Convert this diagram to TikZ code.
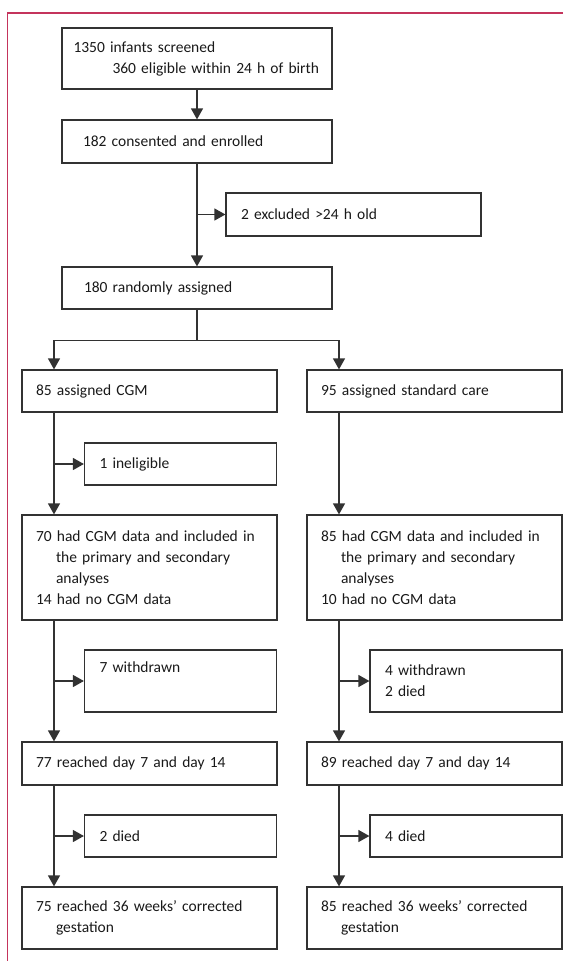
\documentclass[tikz,border=0pt]{standalone}
\usepackage{fontspec}
\setmainfont[WordSpace=0.8]{Carlito}
\usetikzlibrary{arrows.meta,positioning}
\definecolor{framered}{RGB}{196,52,92}
\definecolor{boxline}{RGB}{50,50,50}
\definecolor{boxtext}{RGB}{25,25,25}

\begin{document}
\begin{tikzpicture}
[x=1pt, y=-1pt, draw=boxline, line width=1.2pt, >={Triangle[width=12pt,length=11pt]},
stage/.style={rectangle, draw, text=boxtext, align=left, inner xsep=14pt, inner ysep=0pt, text width=227pt, font=\fontsize{15.5}{21}\selectfont},
drop/.style={stage, inner xsep=15pt, text width=162pt}]

\useasboundingbox (0,0) rectangle (563,961);

\draw[framered, line width=1.6pt] (563,13) -- (7.5,13) -- (7.5,961);

\node[stage, text width=247pt, inner xsep=11.5pt, minimum height=61pt] (screen) at (197,58.5) {1350 infants screened\\\hspace*{39pt}\mbox{360 eligible within 24 h of birth}};
\node[stage, text width=228pt, inner xsep=21pt, minimum height=43pt] (enrol) at (197,141.5) {182 consented and enrolled};
\node[drop, text width=225pt, minimum height=43pt] (excl) at (353.5,214.5) {2 excluded >24 h old};
\node[stage, text width=226pt, inner xsep=22pt, minimum height=42pt] (random) at (197,288) {180 randomly assigned};

\node[stage, minimum height=42pt] (cgmA) at (149.5,391) {85 assigned CGM};
\node[stage, minimum height=42pt] (stdA) at (434.5,391) {95 assigned standard care};

\node[drop, minimum height=42pt] (cgmX1) at (180.5,464) {1 ineligible};

\node[stage, minimum height=105pt] (cgmB) at (149.5,567.5) {70 had CGM data and included in\\\hspace*{20pt}the primary and secondary\\\hspace*{20pt}analyses\\14 had no CGM data};
\node[stage, minimum height=105pt] (stdB) at (434.5,567.5) {85 had CGM data and included in\\\hspace*{20pt}the primary and secondary\\\hspace*{20pt}analyses\\10 had no CGM data};

\node[drop, minimum height=62pt] (cgmX2) at (180.5,681) {7 withdrawn\\\strut};
\node[drop, minimum height=62pt] (stdX2) at (466,681) {4 withdrawn\\2 died};

\node[stage, minimum height=43pt] (cgmC) at (149.5,763.5) {77 reached day 7 and day 14};
\node[stage, minimum height=43pt] (stdC) at (434.5,763.5) {89 reached day 7 and day 14};

\node[drop, minimum height=42pt] (cgmX3) at (180.5,836) {2 died};
\node[drop, minimum height=42pt] (stdX3) at (466,836) {4 died};

\node[stage, minimum height=62pt] (cgmD) at (149.5,918) {75 reached 36 weeks’ corrected\\\hspace*{20pt}gestation};
\node[stage, minimum height=62pt] (stdD) at (434.5,918) {85 reached 36 weeks’ corrected\\\hspace*{20pt}gestation};

\coordinate[below=31pt of random.south] (split);
\coordinate (cgmline) at (54,0);
\coordinate (stdline) at (339,0);

\draw[->] (screen) -- (enrol);
\draw[->] (enrol) -- (random);
\draw[->] (excl.west -| enrol.south) -- (excl);

\draw (random) -- (split);
\draw[->] (split) -| (cgmA.north -| cgmline);
\draw[->] (split) -| (stdA.north -| stdline);

\draw[->] (cgmA.south -| cgmline) -- (cgmB.north -| cgmline);
\draw[->] (cgmX1.west -| cgmline) -- (cgmX1);
\draw[->] (stdA.south -| stdline) -- (stdB.north -| stdline);

\draw[->] (cgmB.south -| cgmline) -- (cgmC.north -| cgmline);
\draw[->] (cgmX2.west -| cgmline) -- (cgmX2);
\draw[->] (stdB.south -| stdline) -- (stdC.north -| stdline);
\draw[->] (stdX2.west -| stdline) -- (stdX2);

\draw[->] (cgmC.south -| cgmline) -- (cgmD.north -| cgmline);
\draw[->] (cgmX3.west -| cgmline) -- (cgmX3);
\draw[->] (stdC.south -| stdline) -- (stdD.north -| stdline);
\draw[->] (stdX3.west -| stdline) -- (stdX3);

\end{tikzpicture}
\end{document}
